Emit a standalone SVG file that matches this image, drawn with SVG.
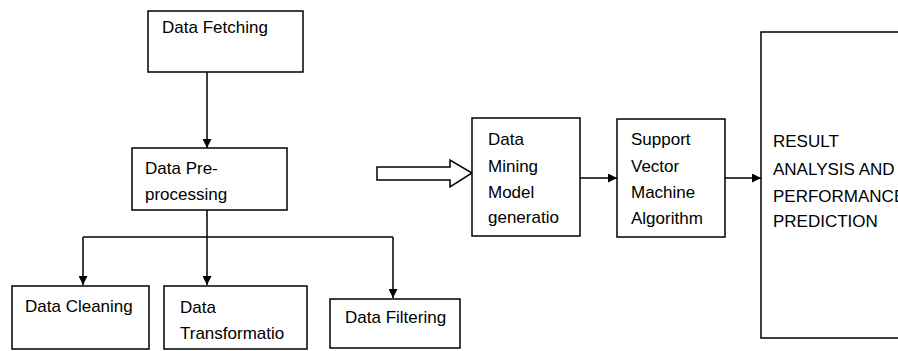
<svg xmlns="http://www.w3.org/2000/svg" width="898" height="351" viewBox="0 0 898 351">
<style>
.box{fill:#fff;stroke:#000;stroke-width:1.5}
.t{font-family:"Liberation Sans",Arial,sans-serif;font-size:17px;fill:#000}
.c{fill:none;stroke:#000;stroke-width:1.5}
</style>
<defs>
<marker id="ah" markerWidth="9" markerHeight="9" refX="9" refY="4.5" orient="auto" markerUnits="userSpaceOnUse">
<path d="M0,0 L9,4.5 L0,9 Z" fill="#000"/>
</marker>
</defs>
<rect width="898" height="351" fill="#fff"/>
<g id="connectors">
<line class="c" x1="207" y1="72" x2="207" y2="148" marker-end="url(#ah)"/>
<line class="c" x1="207" y1="210" x2="207" y2="285" marker-end="url(#ah)"/>
<line class="c" x1="83" y1="237" x2="393" y2="237"/>
<line class="c" x1="83" y1="237" x2="83" y2="285" marker-end="url(#ah)"/>
<line class="c" x1="393" y1="237" x2="393" y2="298" marker-end="url(#ah)"/>
<path d="M377,167 L450,167 L450,160 L472,173 L450,187 L450,180 L377,180 Z" fill="#fff" stroke="#000" stroke-width="1.5"/>
<line class="c" x1="580" y1="178" x2="617" y2="178" marker-end="url(#ah)"/>
<line class="c" x1="725" y1="178" x2="761" y2="178" marker-end="url(#ah)"/>
</g>
<g id="fetching">
<rect class="box" x="148" y="11" width="155" height="61"/>
<text class="t" x="162" y="33">Data Fetching</text>
</g>
<g id="preprocessing">
<rect class="box" x="132" y="148" width="155" height="62"/>
<text class="t" x="145" y="174">Data Pre-</text>
<text class="t" x="145" y="200">processing</text>
</g>
<g id="cleaning">
<rect class="box" x="12" y="286" width="137" height="63"/>
<text class="t" x="25" y="312">Data Cleaning</text>
</g>
<g id="transformation">
<rect class="box" x="164" y="286" width="143" height="63"/>
<text class="t" x="180" y="313">Data</text>
<text class="t" x="180" y="339">Transformatio</text>
</g>
<g id="filtering">
<rect class="box" x="330" y="299" width="130" height="49"/>
<text class="t" x="345" y="323">Data Filtering</text>
</g>
<g id="mining">
<rect class="box" x="472" y="118" width="108" height="118"/>
<text class="t" x="488" y="145">Data</text>
<text class="t" x="488" y="172">Mining</text>
<text class="t" x="488" y="198">Model</text>
<text class="t" x="488" y="223">generatio</text>
</g>
<g id="svm">
<rect class="box" x="617" y="119" width="108" height="118"/>
<text class="t" x="631" y="145">Support</text>
<text class="t" x="631" y="172">Vector</text>
<text class="t" x="631" y="198">Machine</text>
<text class="t" x="631" y="224">Algorithm</text>
</g>
<g id="result">
<rect class="box" x="761" y="32" width="150" height="306"/>
<text class="t" x="773" y="147">RESULT</text>
<text class="t" x="773" y="175">ANALYSIS AND</text>
<text class="t" x="773" y="202">PERFORMANCE</text>
<text class="t" x="773" y="227">PREDICTION</text>
</g>
</svg>
